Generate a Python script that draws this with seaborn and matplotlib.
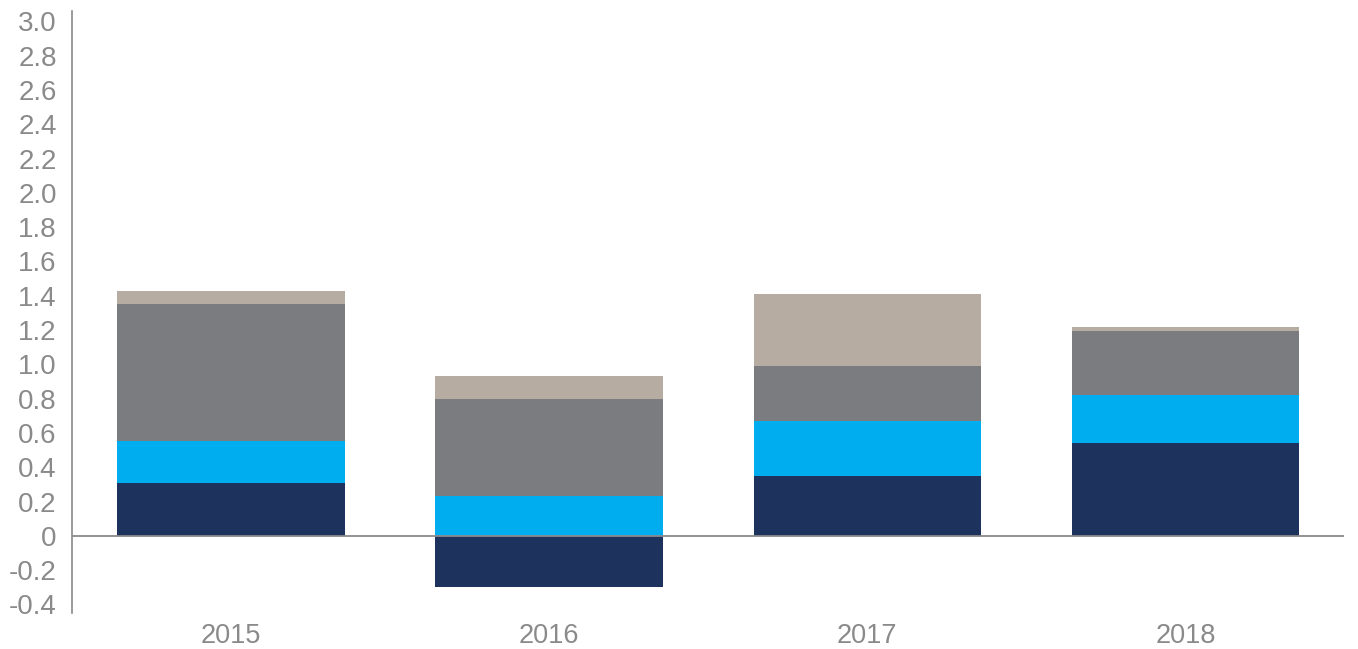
import numpy as np
import pandas as pd
import matplotlib
matplotlib.use("Agg")
import matplotlib.pyplot as plt
import seaborn as sns

years = ["2015", "2016", "2017", "2018"]
navy_vals = [0.31, -0.30, 0.35, 0.54]
blue_vals = [0.24, 0.23, 0.32, 0.28]
gray_vals = [0.80, 0.57, 0.32, 0.375]
beige_vals = [0.075, 0.13, 0.42, 0.02]

series = [navy_vals, blue_vals, gray_vals, beige_vals]
colors = ["#1d325c", "#00adee", "#7b7c80", "#b6aca2"]

sns.set_theme(style="white")
plt.rcParams["font.family"] = ["Liberation Sans", "DejaVu Sans"]

fig = plt.figure(figsize=(13.58, 6.49), dpi=100)
ax = fig.add_axes([0.053, 0.0555, 0.937, 0.9275])

pos_base = np.zeros(len(years))
neg_base = np.zeros(len(years))
for vals, col in zip(series, colors):
    v = np.array(vals, dtype=float)
    bottom = np.where(v >= 0, pos_base, neg_base)
    df = pd.DataFrame({"year": years, "value": v})
    sns.barplot(data=df, x="year", y="value", color=col, width=0.715,
                bottom=bottom, saturation=1, linewidth=0, ax=ax, errorbar=None)
    pos_base = pos_base + np.where(v >= 0, v, 0)
    neg_base = neg_base + np.where(v < 0, v, 0)

ax.axhline(0, color="#8a8a8e", linewidth=1.3, zorder=5)
ax.set_xlim(-0.5, 3.5)
ax.set_ylim(-0.45, 3.06)
yt = np.round(np.arange(-0.4, 3.01, 0.2), 1)
ax.set_yticks(yt)
ax.set_yticklabels(["0" if abs(t) < 1e-9 else f"{t:.1f}" for t in yt])
ax.set_xlabel("")
ax.set_ylabel("")
for s in ["top", "right", "bottom"]:
    ax.spines[s].set_visible(False)
ax.spines["left"].set_color("#8a8a8e")
ax.spines["left"].set_linewidth(1.2)
ax.tick_params(axis="y", length=0, pad=11, labelsize=20, labelcolor="#8a8a8a")
ax.tick_params(axis="x", length=0, pad=7, labelsize=19.5, labelcolor="#8a8a8a")
ax.grid(False)

fig.savefig("out.png", dpi=100)
